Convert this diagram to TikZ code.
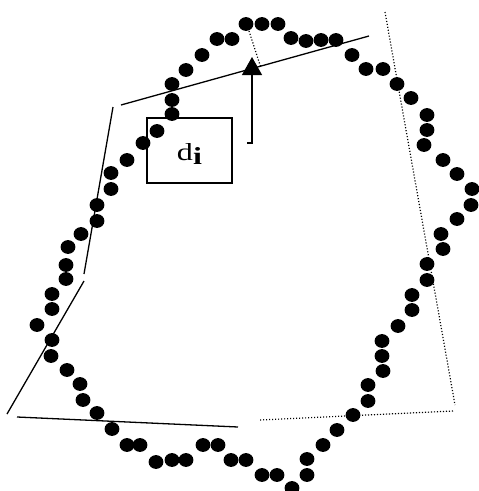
\documentclass[tikz,border=0pt]{standalone}
\usepackage{fontspec}
\setmainfont{Liberation Serif}
\usetikzlibrary{arrows.meta}
\begin{document}
\begin{tikzpicture}[x=1pt,y=-1pt,
  pt/.style={fill=black},
  fitline/.style={line width=1.3pt},
  dotline/.style={line width=1.2pt,dash pattern=on 1.1pt off 1.9pt},
  label box/.style={draw,line width=1.3pt,minimum width=85pt,minimum height=65pt,inner sep=0pt}]
\useasboundingbox (0,0) rectangle (479,491);
% dots of the contour
\foreach \x/\y in {68/247,81/234,97/221,97/205,111/189,111/173,127/160,143/143,157/131,172/114,172/100,172/84,186/70,202/55,217/39,232/39,246/24,262/24,278/24,291/38,306/41,321/40,336/40,352/55,366/69,383/69,397/84,411/98,427/115,427/130,424/145,443/160,457/174,472/189,471/205,457/219,441/234,443/249,427/264,427/280,412/295,412/310,398/326,382/341,382/356,383/371,368/385,368/401,353/415,337/430,323/445,307/459,307/475,292/488,277/475,262/475,246/460,231/460,218/445,203/445,186/460,172/460,156/462,140/445,127/445,112/429,97/413,83/400,80/384,67/370,51/356,52/340,37/325,52/309,52/294,66/279,66/265}
  \fill[pt] (\x,\y) ellipse [x radius=7.4pt, y radius=6.9pt];
% fitted lines
\coordinate (t1) at (121,105); \coordinate (t2) at (369,36);
\coordinate (l1) at (113,107); \coordinate (l2) at (84,274);
\coordinate (m1) at (84,281);  \coordinate (m2) at (7,414);
\coordinate (b1) at (17,417);  \coordinate (b2) at (238,427);
\coordinate (r1) at (385,12);  \coordinate (r2) at (455,405);
\coordinate (s1) at (453,411); \coordinate (s2) at (260,420);
\coordinate (p1) at (249,31);  \coordinate (p2) at (261,68);
\draw[fitline] (t1) -- (t2);
\draw[fitline] (l1) -- (l2);
\draw[fitline] (m1) -- (m2);
\draw[fitline] (b1) -- (b2);
\draw[dotline] (r1) -- (r2);
\draw[dotline] (s1) -- (s2);
\draw[dotline] (p1) -- (p2);
% label box and arrow
\node[label box] (box) at (189.5,150.5) {};
\node[inner sep=0pt,anchor=base] (lbl) at (189.5,160) {\resizebox{25pt}{17pt}{d\raisebox{-0.17em}{\textbf{i}}}};
\coordinate (a0) at (247,143);
\coordinate (a1) at (252,143);
\coordinate (a2) at (252,57);
\draw[line width=1.3pt,-{Triangle[width=20pt,length=18pt]}] (a0) -- (a1) -- (a2);
\end{tikzpicture}
\end{document}
